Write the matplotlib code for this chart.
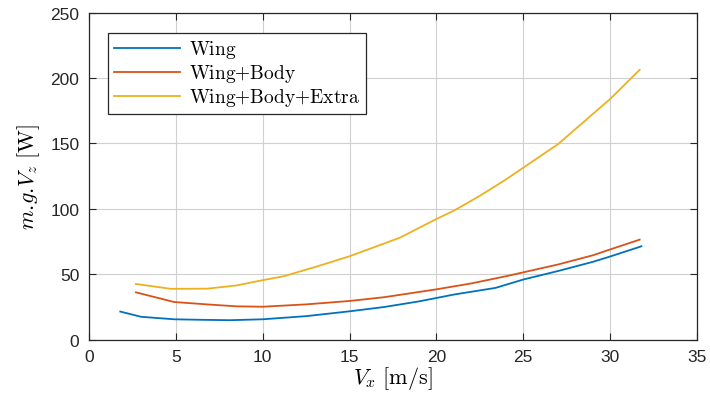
import numpy as np
import matplotlib.pyplot as plt

plt.rcParams['mathtext.fontset'] = 'cm'
plt.rcParams['font.family'] = ['Liberation Sans', 'DejaVu Sans']

# Wing
vx_wing = [1.8, 3.0, 4.9, 6.5, 8.1, 10.0, 12.5, 15.0, 17.0, 19.0, 21.0, 23.4,
           25.0, 27.0, 29.0, 30.0, 31.8]
p_wing = [21.5, 17.5, 15.6, 15.2, 14.9, 15.6, 18.0, 21.7, 25.0, 29.3, 34.5, 39.6,
          46.0, 52.5, 59.5, 63.6, 71.4]

# Wing+Body
vx_body = [2.7, 4.9, 7.0, 8.5, 10.0, 12.5, 15.0, 17.0, 20.0, 22.0, 24.0, 25.0,
           27.0, 29.0, 30.0, 31.7]
p_body = [36.2, 28.8, 26.8, 25.5, 25.2, 27.0, 29.6, 32.5, 38.5, 43.0, 48.5, 51.5,
          57.5, 64.5, 69.0, 76.5]

# Wing+Body+Extra
vx_extra = [2.7, 4.7, 6.8, 8.5, 10.0, 11.2, 13.0, 15.0, 17.9, 20.0, 21.0, 22.5,
            24.0, 25.0, 27.0, 29.0, 30.0, 31.7]
p_extra = [42.6, 38.9, 39.0, 41.5, 45.5, 48.5, 55.5, 63.8, 78.0, 92.3, 98.6, 110.0,
           122.5, 131.5, 149.5, 172.5, 184.0, 206.3]

fig = plt.figure(figsize=(7.1, 4.02), dpi=100)
ax = fig.add_axes([0.1254, 0.1525, 0.8563, 0.8135])

ax.plot(vx_wing, p_wing, color='#0072BD', lw=1.3, label=r'$\mathrm{Wing}$')
ax.plot(vx_body, p_body, color='#D95319', lw=1.3, label=r'$\mathrm{Wing{+}Body}$')
ax.plot(vx_extra, p_extra, color='#EDB120', lw=1.3, label=r'$\mathrm{Wing{+}Body{+}Extra}$')

ax.set_xlim(0, 35)
ax.set_ylim(0, 250)
ax.set_xticks(np.arange(0, 36, 5))
ax.set_yticks(np.arange(0, 251, 50))
ax.grid(True, color='#d0d0d0', lw=0.8)
ax.set_axisbelow(True)
ax.tick_params(direction='in', top=True, right=True, labelsize=12.5, length=5,
               width=0.8, colors='#262626', pad=7)
for s in ax.spines.values():
    s.set_color('#262626')
    s.set_linewidth(0.9)

ax.set_xlabel(r'$V_x\ [\mathrm{m/s}]$', fontsize=16, labelpad=0)
ax.set_ylabel(r'$m.\!g.\!V_z\ [\mathrm{W}]$', fontsize=16, labelpad=6)

leg = ax.legend(loc='upper left', bbox_to_anchor=(0.032, 0.939), borderaxespad=0,
                fontsize=14, fancybox=False, framealpha=1, edgecolor='#262626',
                handlelength=3.4, handletextpad=0.45, labelspacing=0.1,
                borderpad=0.3)
leg.get_frame().set_linewidth(0.9)

plt.savefig('out.png', dpi=100)
